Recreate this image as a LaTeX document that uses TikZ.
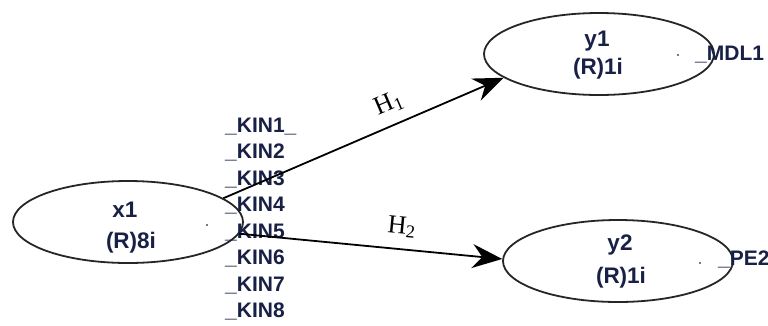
\documentclass[tikz,border=0pt]{standalone}
\usepackage{fontspec}
\setmainfont{Liberation Serif}
\setsansfont{Liberation Sans}
\usetikzlibrary{shapes.geometric,arrows.meta}
\definecolor{lbl}{RGB}{25,32,70}
\begin{document}
\begin{tikzpicture}[x=1pt,y=-1pt,
  lv/.style={ellipse,draw=black!85,line width=1.8pt,minimum width=230pt,minimum height=82pt,inner sep=0pt},
  vtext/.style={font=\sffamily\bfseries\fontsize{22.5}{24}\selectfont,text=lbl,anchor=base,inner sep=0pt},
  mv/.style={font=\sffamily\bfseries\fontsize{21}{22}\selectfont,text=lbl,anchor=base west,inner sep=0pt},
  conn/.style={line width=1.8pt,-{Stealth[length=30pt,width=24pt,inset=10pt]}},
  hl/.style={font=\fontsize{26}{28}\selectfont,inner sep=1pt},
  dotmark/.style={circle,fill=black!70,inner sep=0pt,minimum size=2.4pt}
]
\useasboundingbox (0,0) rectangle (768,325);
\fill[white] (0,0) rectangle (768,325);
% latent variables
\node[lv] (x1) at (128,222) {};
\node[lv] (y1) at (599,54) {};
\node[lv] (y2) at (618,261) {};
% texts
\node[vtext] (x1a) at (125,217) {x1};
\node[vtext] (x1b) at (131,248) {(R)8i};
\node[vtext] (y1a) at (597,46) {y1};
\node[vtext] (y1b) at (598,74) {(R)1i};
\node[vtext] (y2a) at (620,250) {y2};
\node[vtext] (y2b) at (621,283) {(R)1i};
% dots
\node[dotmark] (d1) at (207,225) {};
\node[dotmark] (d2) at (678,55) {};
\node[dotmark] (d3) at (700,263) {};
% manifest labels
\node[mv] (k1) at (225,132) {\_KIN1\_};
\node[mv] (k2) at (225,158.5) {\_KIN2};
\node[mv] (k3) at (225,185) {\_KIN3};
\node[mv] (k4) at (225,211.5) {\_KIN4};
\node[mv] (k5) at (225,238) {\_KIN5};
\node[mv] (k6) at (225,264.5) {\_KIN6};
\node[mv] (k7) at (225,291) {\_KIN7};
\node[mv] (k8) at (225,317.5) {\_KIN8};
\node[mv] (m1) at (695,60) {\_MDL1};
\node[mv] (p2) at (718,265) {\_PE2};
% paths
\draw[conn] (x1.14) -- (y1.194) node[hl,pos=0.62,sloped,above=9pt] (h1) {H\textsubscript{1}};
\draw[conn] (x1.-6) -- (y2.179) node[hl,pos=0.61,sloped,above=10pt] (h2) {H\textsubscript{2}};
\end{tikzpicture}
\end{document}
